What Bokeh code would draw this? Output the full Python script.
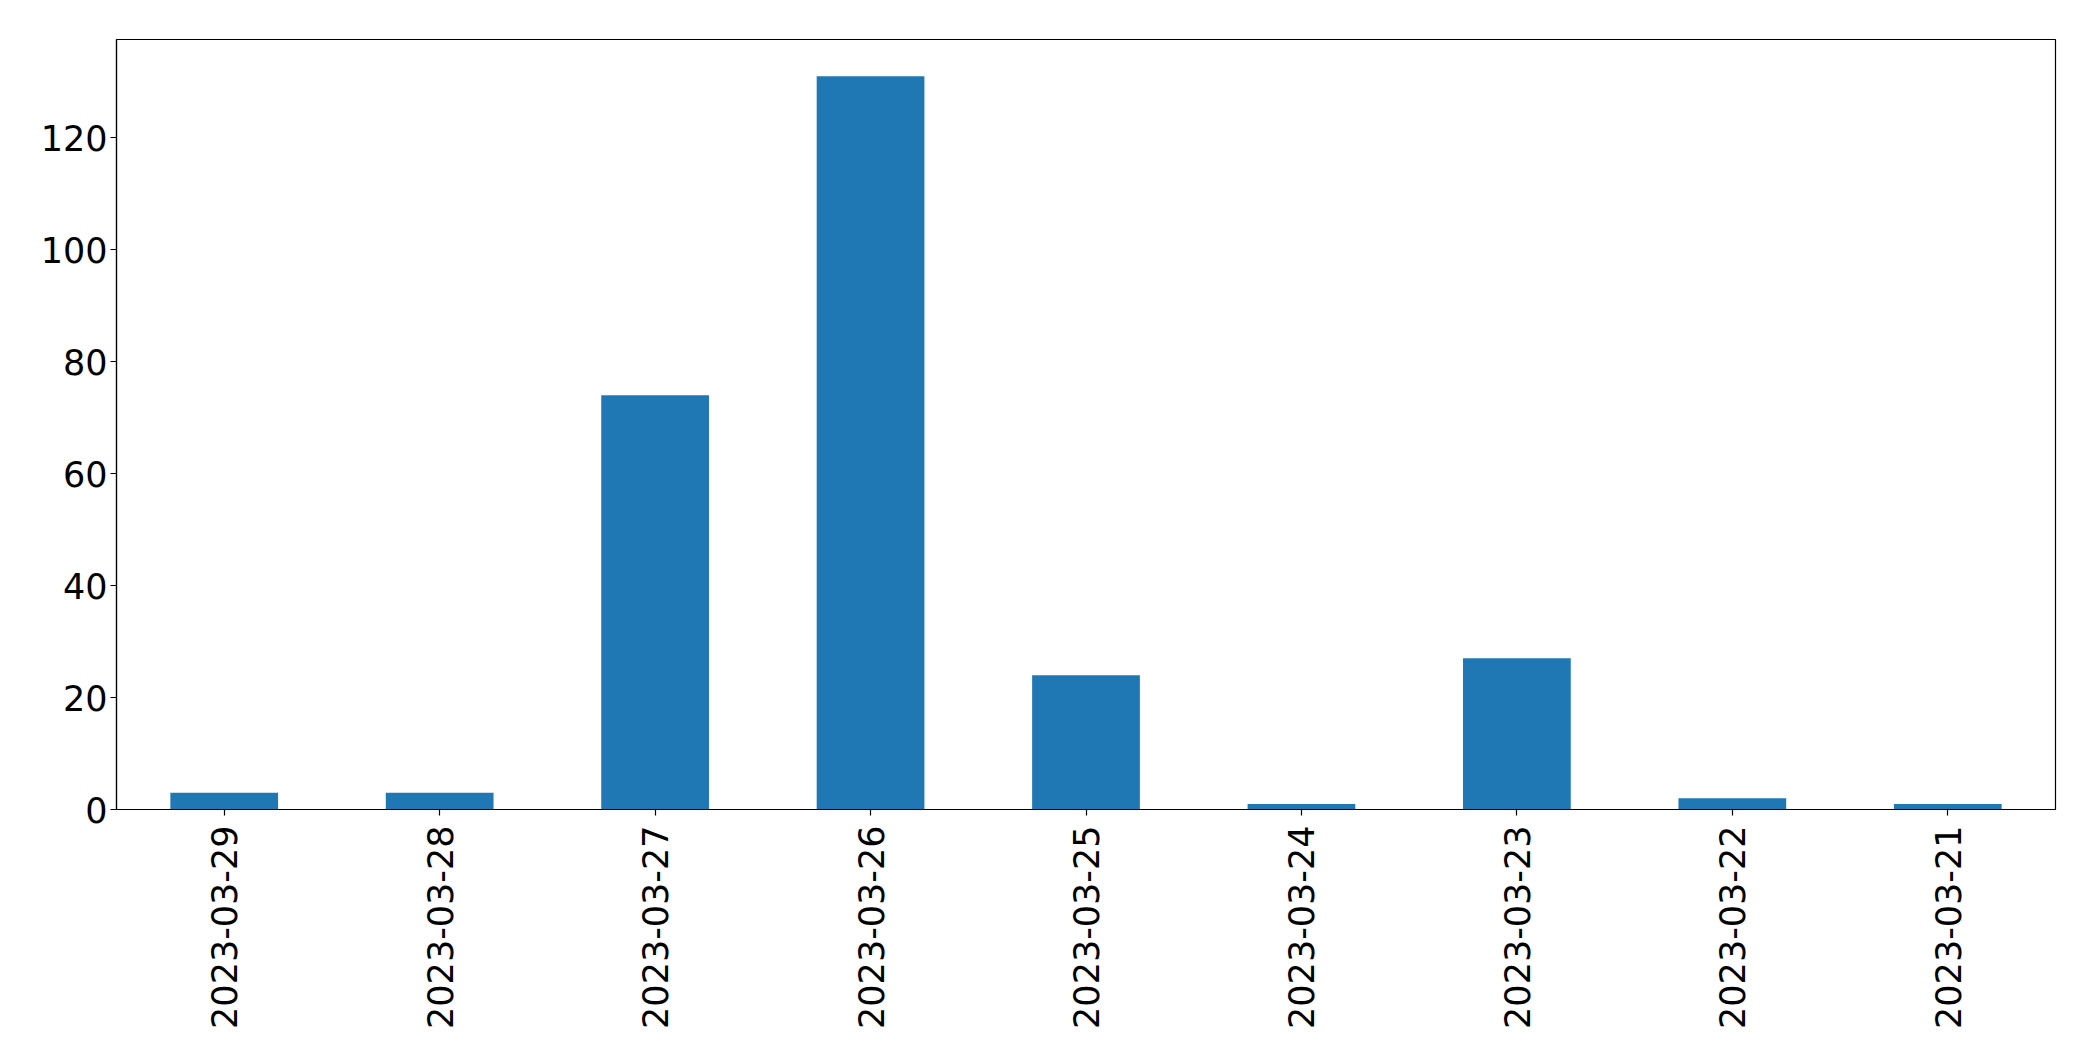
import math
from bokeh.plotting import figure
from bokeh.models import FactorRange, Range1d, FixedTicker, ColumnDataSource
from bokeh.embed import file_html
from bokeh.resources import INLINE

dates = ["2023-03-29", "2023-03-28", "2023-03-27", "2023-03-26", "2023-03-25",
         "2023-03-24", "2023-03-23", "2023-03-22", "2023-03-21"]
counts = [3, 3, 74, 131, 24, 1, 27, 2, 1]
y_ticks = [0, 20, 40, 60, 80, 100, 120]

src = ColumnDataSource(dict(date=dates, count=counts))

p = figure(x_range=FactorRange(*dates, range_padding=0),
           y_range=Range1d(0, max(counts) * 1.05),
           width=2083, height=1051,
           min_border_left=116, min_border_top=39, min_border_right=28, min_border_bottom=242,
           output_backend="svg", toolbar_location=None)

p.vbar(x="date", top="count", width=0.5, source=src, color="#1f77b4", line_color=None)

p.xgrid.visible = False
p.ygrid.visible = False
p.outline_line_color = "black"
p.outline_line_width = 1.2
p.background_fill_color = "white"
p.border_fill_color = "white"

for ax in (p.xaxis[0], p.yaxis[0]):
    ax.axis_line_color = "black"
    ax.axis_line_width = 1.2
    ax.major_tick_line_color = "black"
    ax.major_tick_line_width = 1.2
    ax.major_tick_out = 6
    ax.major_tick_in = 0
    ax.minor_tick_line_color = None
    ax.major_label_text_font = "DejaVu Sans"
    ax.major_label_text_font_size = "35px"
    ax.major_label_text_color = "black"

p.yaxis[0].ticker = FixedTicker(ticks=y_ticks)
p.yaxis[0].major_label_standoff = 3
p.xaxis[0].major_label_orientation = math.pi / 2
p.xaxis[0].major_label_standoff = 10

open("out.html", "w").write(file_html(p, INLINE))
